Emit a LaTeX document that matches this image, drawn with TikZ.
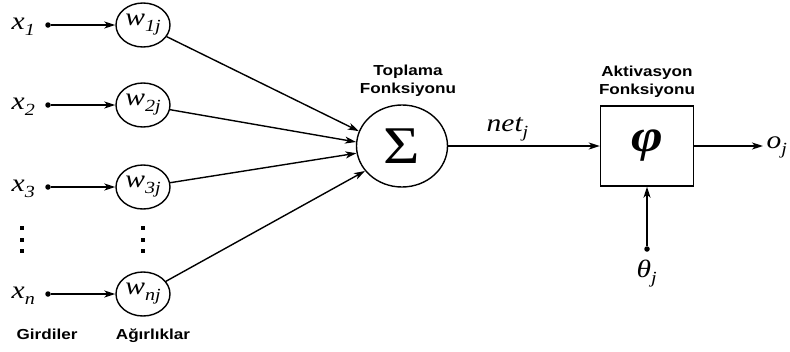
\documentclass[tikz,border=0pt]{standalone}
\usepackage{fontspec}
\setmainfont{Liberation Serif}
\newfontfamily\lsans{Liberation Sans}
\usetikzlibrary{shapes.geometric,arrows.meta}
\newcommand\hs[1]{\scalebox{1.18}[1]{#1}}
\newcommand\sym[2]{\hs{\fontsize{25}{25}\selectfont\itshape #1\raisebox{-6pt}{\fontsize{17}{17}\selectfont #2}}}
\newcommand\blbl[1]{\hs{\lsans\bfseries\fontsize{14.5}{18}\selectfont\begin{tabular}{@{}c@{}}#1\end{tabular}}}
\begin{document}
\begin{tikzpicture}[x=1pt,y=-1pt,
  line width=1.4pt,
  arr/.style={-{Stealth[length=11pt,width=7pt,inset=3pt]}},
  wnode/.style={ellipse,draw,minimum width=54pt,minimum height=44pt,inner sep=0pt},
  dotn/.style={circle,fill,inner sep=0pt,minimum size=5.5pt},
  vd/.style={fill,inner sep=0pt,minimum size=4.5pt},
  txt/.style={inner sep=0pt}]
\useasboundingbox (0,0) rectangle (790,351);
% inputs
\node[txt,anchor=base west] (x1) at (11,29) {\sym{x}{1}};
\node[txt,anchor=base west] (x2) at (11,109) {\sym{x}{2}};
\node[txt,anchor=base west] (x3) at (11,191) {\sym{x}{3}};
\node[txt,anchor=base west] (xn) at (11,298) {\sym{x}{n}};
\node[dotn] (d1) at (48,25) {};
\node[dotn] (d2) at (48,105) {};
\node[dotn] (d3) at (48,187) {};
\node[dotn] (dn) at (48,294) {};
\node[wnode] (w1) at (143,25) {\sym{w}{1j}};
\node[wnode] (w2) at (143,105) {\sym{w}{2j}};
\node[wnode] (w3) at (143,187) {\sym{w}{3j}};
\node[wnode] (wn) at (143,294) {\sym{w}{nj}};
% vertical dots
\node[vd] (va1) at (22,228) {};
\node[vd] (va2) at (22,240) {};
\node[vd] (va3) at (22,251) {};
\node[vd] (vb1) at (143,228) {};
\node[vd] (vb2) at (143,240) {};
\node[vd] (vb3) at (143,251) {};
% sum
\node[ellipse,draw,minimum width=91pt,minimum height=82pt,inner sep=0pt] (sig) at (402,146) {\hs{\fontsize{53}{53}\selectfont Σ}};
\node[txt] (sigl) at (408,81) {\blbl{Toplama\\Fonksiyonu}};
% activation
\node[rectangle,draw,minimum width=93pt,minimum height=80pt,inner sep=0pt] (act) at (647,146) {\hs{\fontsize{46}{46}\selectfont\bfseries\itshape φ}};
\node[txt] (actl) at (647,82) {\blbl{Aktivasyon\\Fonksiyonu}};
\node[txt,anchor=base west] (net) at (486,131) {\sym{net}{j}};
\coordinate (oend) at (763,146);
\node[txt,anchor=base west] (o) at (766,148) {\sym{o}{j}};
\node[dotn] (dt) at (647,249) {};
\node[txt,anchor=base west] (th) at (636,277) {\sym{θ}{j}};
% bottom labels
\node[txt] (gl) at (47,336) {\blbl{Girdiler}};
\node[txt] (al) at (153,336) {\blbl{Ağırlıklar}};
% connectors
\draw[arr] (d1) -- (w1);
\draw[arr] (d2) -- (w2);
\draw[arr] (d3) -- (w3);
\draw[arr] (dn) -- (wn);
\draw[arr] (w1) -- (sig.161);
\draw[arr] (w2) -- (sig.175);
\draw[arr] (w3) -- (sig.189);
\draw[arr] (wn) -- (sig.214);
\draw[arr] (sig) -- (act);
\draw[arr] (act) -- (oend);
\draw[arr] (dt) -- (act);
\end{tikzpicture}
\end{document}
